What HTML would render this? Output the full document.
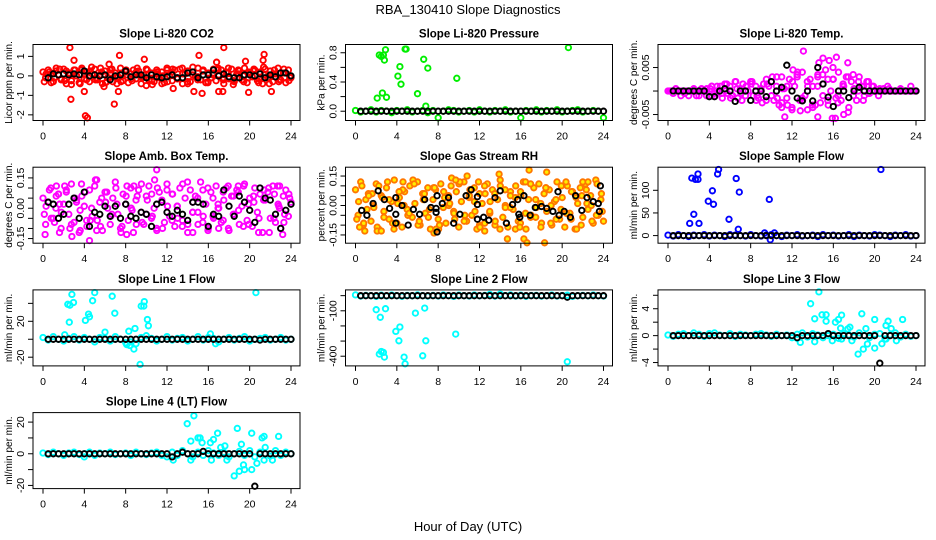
<!DOCTYPE html>
<html><head><meta charset="utf-8"><style>
html,body{margin:0;padding:0;background:#fff;}
svg{display:block;font-family:"Liberation Sans",sans-serif;}
</style></head><body>
<svg id="chart" width="936" height="540" viewBox="0 0 936 540" xmlns="http://www.w3.org/2000/svg">
<rect width="936" height="540" fill="#fff"/>
<text x="468" y="14" text-anchor="middle" font-size="13">RBA_130410  Slope Diagnostics</text>
<text x="468" y="531" text-anchor="middle" font-size="13">Hour of Day (UTC)</text>
<g id="plots"></g>
</svg>
<script>
// ---------- data ----------
const co2A=[0.2,-0.1,0.3,0.1,-0.3,0.25,0.05,-0.2,0.35,-0.4,0.15,-0.25,0.3,0.0,-0.35,0.4,-0.15,0.2,-0.3,0.1,0.35,-0.2,0.05,-0.4,0.25,-0.1,0.3,-0.3,0.15,-0.05,0.4,-0.25,0.2,-0.35,0.1,0.3,-0.15,0.25,-0.4,0.05,0.35,-0.2,0.15,-0.3,0.3,-0.1,0.2,-0.35,0.4,0.0,-0.25,0.3,-0.15,0.35,-0.4,0.1,0.25,-0.3,0.2,-0.05,0.4,-0.2,0.3,-0.35,0.15,-0.1,0.35,-0.25,0.05,0.3,-0.4,0.2,-0.15,0.35,-0.3,0.1,0.25,-0.2,0.4,-0.35,0.15,-0.05,0.3,-0.25,0.2,-0.4,0.35,-0.1,0.25,-0.3,0.1,0.4,-0.2,0.15,-0.35,0.3,-0.1];
const co2B=[-0.3,0.2,-0.1,0.35,-0.25,0.1,0.3,-0.4,0.05,0.25,-0.2,0.4,-0.35,0.15,0.0,-0.3,0.3,-0.15,0.2,-0.05,0.35,-0.25,0.1,-0.4,0.3,0.2,-0.1,0.4,-0.3,0.05,-0.2,0.25,-0.35,0.15,0.3,-0.1,0.4,-0.25,0.1,-0.3,0.2,0.35,-0.15,0.05,-0.4,0.3,-0.2,0.15,-0.05];
const co2C=[0.1,-0.35,0.4,-0.15,0.25,-0.45,0.0,0.3,-0.2,0.45,-0.1,0.2,-0.3,0.35,-0.4,0.15,0.05,-0.25,0.4,-0.1,0.3,-0.45,0.2,0.0,-0.3,0.35,-0.15,0.1,-0.4,0.45,-0.05,0.25,-0.3,0.05,0.4,-0.2,0.15,-0.45,0.3,0.0,-0.1,0.25,-0.35,0.45,-0.15,0.1,-0.3,0.35,-0.25];
const co2OutT=[2.6,4.1,4.3,2.7,6.9,7.4,9.8,15.1,17.5,21.4,4.0,7.3,14.6,15.4,10.0,17.0,17.4,19.9,22.1,16.8,3.0,21.3,6.4,19.6,12.6,5.9];
const co2OutV=[1.45,-2.05,-2.15,-1.2,-1.45,1.05,0.85,1.05,1.45,1.1,-0.8,-0.8,-0.8,-0.9,-0.5,-0.8,-0.8,-0.85,-0.8,0.7,0.8,0.8,0.6,0.75,-0.65,-0.55];
const co2Black=[-0.1,0.1,0.05,0.1,0.05,0.1,0.05,0.25,0.0,0.05,0.0,0.05,-0.2,0.0,0.05,0.25,-0.05,0.05,0.05,-0.1,0.05,-0.05,-0.1,-0.05,0.05,-0.1,-0.1,0.15,0.2,-0.1,0.05,0.05,0.3,0.0,0.1,-0.05,-0.1,-0.1,0.05,0.05,0.0,0.1,-0.1,0.05,-0.05,0.15,0.15,0.0];

const pressBand=[0.01,-0.01,0.0,0.02,-0.01,0.01,0.0,-0.02,0.01,0.0,0.02,-0.01,0.0,0.01,-0.02,0.01,-0.09,0.0,0.02,0.01,-0.01,0.0,0.01,-0.01,0.02,0.0,-0.01,0.01,0.0,0.02,-0.01,0.0,-0.09,0.01,0.0,0.02,-0.01,0.01,0.0,0.02,-0.01,0.0,0.01,0.02,-0.01,0.0,0.01,0.0,-0.09];
const pressOutT=[2.1,2.3,2.5,2.6,2.7,2.8,2.9,3.0,4.1,4.3,4.4,4.8,4.9,6.0,6.6,7.0,9.8,20.6,6.8];
const pressOutV=[0.18,0.77,0.75,0.25,0.77,0.7,0.84,0.19,0.48,0.61,0.37,0.85,0.85,0.24,0.71,0.59,0.45,0.87,0.07];
const pressBlack=[0,0,0,0,0,0,0,0,0,0,0,0,0,0,0,0,0,0,0,0,0,0,0,0,0,0,0,0,0,0,0,0,0,0,0,0,0,0,0,0,0,0,0,0,0,0,0,0];

const tempA=[0,0,-0.5,0.5,0,-1,0,0,-1,0,0.5,0,-1,0,0,0.5,-1,1,-0.5,1,0,-1.5,1.5,-0.5,1,-1,2,-1.5,0.5,1.5,-1,0,2,-1,1,-1.5,0.5,1.5,-2,1,2,-2,1,-3,3,0.5,-1.5,2.5,-3.5,1,3,-2,4,-1,-4,2.5,1,-3,3.5,-2.5,1.5,4.5,-3,0,2.5,-1.5,4,-2,1,3,-3.5,2,0.5,-2,3,1,-1,2,-0.5,1,0,0,0.5,0,0,1,0,0,0,0,0.5,0,0,0,1,0,0];
const tempB=[0,0,0,-0.5,0,0,0,0,0.5,-1,1,0,-1.5,2,-0.5,1,1.5,-2,0,2.5,-1,3,-2.5,1,-4,3.5,-1.5,2,-3,1,3.5,-2,2.5,-1,1.5,3,-1,2,1,-0.5,0,0,0,0.5,0,0,0,0,0];
const tempC=[0,0,0,0,0,-1,0.5,-1,1,0,-0.5,1.5,-1,0.5,-2,1,2,-1,-2.5,1.5,3,-1.5,0.5,-3,2,4,-2,1,-3.5,3,-1,2.5,5,-2.5,1,-4.5,3.5,0,-2,2,1,-1,0.5,0,0,0,0,0,0];
const tempOutT=[13.1,11.3,14.5,16.2,15.9,15.6,17.4,12.8,17.0,15.0,16.3,14.6,11.0,12.1];
const tempOutV=[8.5,-5.5,-5.5,-5.8,-5.8,6.5,6.0,-4.2,-5.0,7.0,7.2,6.0,-3.5,4.5];
const tempBlack=[0,0,0,0,0,0,0,-1.2,-1.2,0,0.5,0,-2.2,0,0,-2.0,0,0,-1.2,2.0,0,0.8,5.5,0,-1.5,-2.1,0,-2.1,5.0,1.5,-1.3,-3.3,0,0,-1.4,0,0.8,0,0,0,0,0,0,0,0,0,0,0];

const ambA=[5,-8,3,10,-5,0,7,-10,2,8,-3,12,-7,4,-12,6,1,-9,9,-4,11,-6,3,-11,8,0,-8,5,13,-3,-10,7,2,-6,10,-12,4,9,-2,-8,6,11,-5,0,-10,8,3,-7,12,-4,7,-9,1,10,-6,5,-12,9,-2,6,-8,13,-4,2,-10,8,-5,11,0,-7,4,10,-11,6,-3,9,-8,1,12,-6,5,-9,10,-2,7,-12,4,8,-5,11,-7,2,-10,6,9,-4,3];
const ambB=[-3,9,-7,2,11,-10,5,-1,8,-6,14,-9,3,-4,10,-12,6,0,-8,12,-3,7,-11,4,9,-6,1,-9,13,-2,5,-7,10,-4,2,8,-10,6,-1,11,-8,3,-5,9,-12,7,0,-3,5];
const ambC=[1,-5,6,-2,9,-8,3,12,-6,0,-11,5,8,-3,2,-9,11,-1,6,-7,4,-4,10,-10,1,7,-5,12,-8,3,-2,9,-11,5,0,-6,11,-3,8,-9,2,6,-12,4,10,-5,1,-7,7];
const ambOutT=[11.0,10.8,0.2,1.6,2.8,4.5,5.4,8.1,12.6,23.2,1.3,5.2,8.8,22.7,22.9,3.6,14.5,17.0,18.9,1.5];
const ambOutV=[19,14,-13,-12,-14,-16,-19,-13,-19,-13,11,14,11,11,11,-11,-12,-10,11,7];
const ambBlack=[3,2,-5,-3,2,5,-5,8,-9,-2,-3,1,-4,1,-5,2,-4,-5,-2,-3,-9,2,3,-2,-4,-1,-3,-6,3,3,2,-9,-3,-4,9,1,-4,6,3,-1,-7,10,5,4,-3,-10,-1,2];

const rhA=[8,-5,12,-10,3,6,-8,0,11,-12,5,-3,9,-7,2,13,-9,4,-11,7,-2,10,-6,1,12,-10,6,-4,9,-12,3,8,-7,11,-1,-9,5,10,-3,7,-11,2,12,-8,4,-5,9,-12,6,1,-9,11,-4,8,-10,3,13,-6,0,-11,7,-2,10,-8,5,12,-12,3,-5,9,-1,11,-9,6,-3,8,-10,2,12,-7,4,-11,10,-4,7,-12,1,9,-6,11,-2,5,-9,13,-5,3,-8];
const rhB=[-7,10,-2,6,-11,4,12,-9,1,8,-5,13,-10,3,-6,9,-12,7,0,-4,11,-8,5,2,-10,10,-3,6,-12,8,-1,4,-9,12,-6,3,-11,9,0,-7,10,-4,7,-12,5,1,-8,11,-3];
const rhC=[2,-9,5,-1,10,-6,3,-12,7,0,-4,11,-8,6,-2,9,-10,4,1,-7,12,-5,8,-3,-11,6,2,-8,10,-1,5,-12,7,-4,11,-6,1,9,-9,3,-2,12,-7,4,-10,8,0,-5,6];
const rhOutT=[7.6,7.8,14.7,16.3,16.6,18.3,4.6,9.3,10.8,13.9,16.8,18.5,0.4,0.9,2.1,2.5,12.5,22.0,22.5,15.9,11.9,9.7];
const rhOutV=[-14,-12,-17,-17,-19,-19,12,14,15,16,18,17,-11,-13,-13,-13,-13,12,12,-11,12,13];
const rhBlackT=[0.6,1.1,1.7,2.2,2.8,3.3,3.9,3.9,3.9,4.5,5.1,5.6,6.2,6.7,7.3,7.8,7.8,7.9,7.9,8.4,9.0,9.5,10.1,10.7,11.2,11.8,11.8,11.8,12.4,12.9,13.5,14.0,14.6,15.2,15.7,15.8,15.9,16.3,16.9,17.4,18.0,18.5,19.1,19.6,19.7,20.2,20.8,21.3,21.9,22.4,23.0,23.5,23.6,23.7];
const rhBlackV=[-2.5,-5,1,7.5,3,-1.5,4,-4.5,-9,0,-10,-2,-4.5,3,-1,-3.5,-1.5,5,-13.5,1,4,-9,-4.5,5,8,-7,4.5,0.5,-6,-7.5,4,7.5,-9,0.5,3,-4.5,-6,5,-5,-1,-0.5,-1.5,-3,7,-5,-3,-6,5,-2.5,4,2,1,-3,10];

const sampBand=[1,-1,2,0,-2,1,0,2,-1,1,0,-2,2,1,0,-1,2,0,-1,1,2,0,-2,1,0,2,-1,0,1,-2,2,0,1,-1,0,2,-2,1,0,-1,2,1,0,-2,1,0,2,-1,0];
const sampOutT=[2.1,2.3,2.5,2.65,2.9,2.9,3.0,3.9,4.3,4.4,4.8,4.9,5.9,6.6,6.8,6.9,9.8,20.6,9.9,9.35,10.3];
const sampOutV=[27,127,47,124,124,136,27,76,99,69,136,146,36,126,14,96,80,146,-9,6,6];
const sampBlack=[0,0,0,0,0,0,0,0,0,0,0,0,0,0,0,0,0,0,0,0,0,0,0,0,0,0,0,0,0,0,0,0,0,0,0,0,0,0,0,0,0,0,0,0,0,0,0,0];

const l1Band=[2,-1,3,0,-2,1,3,-1,2,0,-3,2,1,-2,3,0,-4,-3,-5,2,4,1,-2,0,3,-1,1,2,-2,0,3,-1,2,1,-3,0,2,-1,1,3,-2,0,1,2,-1,0,2,-1,0];
const l1OutT=[2.4,2.6,2.8,2.95,2.55,4.1,4.4,4.5,4.8,5.0,6.7,6.95,9.75,9.8,9.5,10.1,10.2,9.4,8.8,8.1,8.4,20.6,8.9,8.3,6.0,16.2,16.7,2.1];
const l1OutV=[39,38,50,41,19,21,28,25,43,52,48,29,37,42,37,22,15,-28,-11,-6,-7,52,12,9,8,6,-5,5];
const l1Black=[0,0,0,0,0,0,0,0,0,0,0,0,0,0,0,0,0,0,0,0,0,0,0,0,0,0,0,0,0,0,0,0,0,0,0,0,0,0,0,0,0,-1,0,0,0,0,0,0];

const l2Band=[5,-3,2,0,-5,3,-2,4,0,-4,2,-1,5,0,-3,2,-2,4,1,-5,3,0,-2,4,-1,2,8,-3,10,0,5,-2,3,-4,1,2,-3,0,4,-2,1,3,-5,0,2,-1,4,0,-2];
const l2OutT=[2.0,2.4,2.9,2.3,2.5,2.7,2.8,3.9,4.3,4.2,4.7,4.8,5.8,6.5,6.7,6.8,9.7,20.5];
const l2OutV=[-93,-143,-86,-386,-369,-375,-406,-236,-207,-298,-406,-450,-115,-397,-82,-298,-254,-437];
const l2Black=[0,0,0,0,0,0,0,0,0,0,0,0,0,0,0,0,0,0,0,0,0,0,0,0,0,0,0,0,0,0,0,0,0,0,0,0,0,0,0,0,-10,0,0,0,0,0,0,0];

const l3Band=[0.1,-0.1,0.2,0.3,0.0,0.4,0.2,-0.1,0.3,0.4,0.1,0.0,0.3,-0.1,0.2,0.1,0.0,0.2,0.3,0.1,-0.1,0.2,0.0,0.1,-0.3,0.2,0.4,-0.2,0.3,0.1,-0.3,0.0,0.2,-0.4,0.3,0.1,-0.2,0.4,0.0,-0.3,0.2,0.3,-0.5,0.1,0.4,-0.2,0.2,-0.1,0.0];
const l3OutT=[13.8,14.2,14.6,14.9,15.3,15.3,16.2,16.5,16.8,16.7,17.4,17.6,18.75,19.15,20.0,21.3,21.1,21.6,22.7,18.4,18.9,19.3,20.0,20.7,21.1,22.1,12.5,12.8,14.2,15.9,16.8,17.8];
const l3OutV=[4.75,2.5,6.5,3.1,3.1,2.15,2.0,2.4,3.05,1.1,1.0,1.25,3.25,1.05,2.4,2.15,1.5,1.05,2.4,-2.75,-2.0,-1.25,-1.85,-1.2,-0.5,-0.75,-0.4,-1.0,-0.9,-0.75,-0.5,-0.75];
const l3Black=[0,0,0,0,0,0,0,0,0,0,0,0,0,0,0,0,0,0,0,0,0,0,0,0,-0.3,0,0,0,0,0,0.3,0,0,0,0,0,0,0,0,0,-4.1,0,0,0,0,0,0,0];

const l4Band=[0.5,-0.5,1,0,-1,0.5,1,-0.5,0,1,-1,0.5,0,1,-0.5,0,0.5,-1,1,0,-0.5,0.5,1,-1,-2,1,-1,2,0,-2,1,-1,2,0.5,-1,1,-2,0,1.5,-1,2,-2,1,0,-1.5,2,-1,1,0];
const l4OutT=[13.95,14.6,14.3,15.0,15.2,15.4,16.2,16.5,16.9,17.6,17.2,18.8,19.2,20.2,21.2,21.4,21.5,22.8,18.5,19.0,19.5,19.4,20.2,20.7,21.4,22.2,17.8,16.3,14.3,4.0,12.6];
const l4OutV=[19,24,8,10,10,7,7,9,13,5,4,16,6,13,10,11,4,11,-14,-11,-10,-7,-10,-6,-4,-4,-4,-4,-4,-2,-4];
const l4Black=[0,0,0,0,0,0,0,0,0,0,0,0,0,0,0,0,0,0,0,0,0,0,0,0,-2,0,1,0,0,0,1.5,0,0,0,0,0,0,0,0,0,-20.5,0,0,0,0,0,0,0];

const xTicks=[0,4,8,12,16,20,24];

// ---------- panels ----------
const panels=[
 {id:'co2',title:'Slope Li-820 CO2',ylab:'Licor ppm per min.',col:0,row:0,ymin:-2.29,ymax:1.61,sc:1,ticks:[-2,-1,0,1],labels:['-2','-1','0','1'],color:'#ff0000',A:co2A,B:co2B,C:co2C,oT:co2OutT,oV:co2OutV,blk:co2Black},
 {id:'pressure',title:'Slope Li-820 Pressure',ylab:'kPa per min.',col:1,row:0,ymin:-0.127,ymax:0.913,sc:1,ticks:[0,0.2,0.4,0.6,0.8],labels:['0.0','','0.4','','0.8'],color:'#00ee00',A:pressBand,B:null,oT:pressOutT,oV:pressOutV,blk:pressBlack},
 {id:'temp',title:'Slope Li-820 Temp.',ylab:'degrees C per min.',col:2,row:0,ymin:-0.00627,ymax:0.0099,sc:0.001,ticks:[-0.005,0,0.005],labels:['-0.005','','0.005'],color:'#ff00ff',A:tempA,B:tempB,C:tempC,oT:tempOutT,oV:tempOutV,blk:tempBlack},
 {id:'amb-box-temp',title:'Slope Amb. Box Temp.',ylab:'degrees C per min.',col:0,row:1,ymin:-0.173,ymax:0.203,sc:0.01,ticks:[-0.15,-0.1,-0.05,0,0.05,0.1,0.15],labels:['-0.15','','','0.00','','','0.15'],color:'#ff00ff',A:ambA,B:ambB,C:ambC,oT:ambOutT,oV:ambOutV,blk:ambBlack},
 {id:'gas-stream-rh',title:'Slope Gas Stream RH',ylab:'percent per min.',col:1,row:1,ymin:-0.192,ymax:0.195,sc:0.01,ticks:[-0.15,-0.1,-0.05,0,0.05,0.1,0.15],labels:['-0.15','','','0.00','','','0.15'],color:'#ff7700',fill:'#ffee00',A:rhA,B:rhB,C:rhC,oT:rhOutT,oV:rhOutV,blk:rhBlackV,blkT:rhBlackT},
 {id:'sample-flow',title:'Slope Sample Flow',ylab:'ml/min per min.',col:2,row:1,ymin:-16.8,ymax:151,sc:1,ticks:[0,50,100],labels:['0','50','100'],color:'#0000ff',A:sampBand,B:null,oT:sampOutT,oV:sampOutV,blk:sampBlack},
 {id:'line1-flow',title:'Slope Line 1 Flow',ylab:'ml/min per min.',col:0,row:2,ymin:-29.7,ymax:55,sc:1,ticks:[-20,0,20,40],labels:['-20','','20',''],color:'#00ffff',A:l1Band,B:null,oT:l1OutT,oV:l1OutV,blk:l1Black},
 {id:'line2-flow',title:'Slope Line 2 Flow',ylab:'ml/min per min.',col:1,row:2,ymin:-464,ymax:38,sc:1,ticks:[-400,-300,-200,-100,0],labels:['-400','','','-100',''],color:'#00ffff',A:l2Band,B:null,oT:l2OutT,oV:l2OutV,blk:l2Black},
 {id:'line3-flow',title:'Slope Line 3 Flow',ylab:'ml/min per min.',col:2,row:2,ymin:-4.5,ymax:6.8,sc:1,ticks:[-4,-2,0,2,4,6],labels:['-4','','0','','4',''],color:'#00ffff',A:l3Band,B:null,oT:l3OutT,oV:l3OutV,blk:l3Black},
 {id:'line4-lt-flow',title:'Slope Line 4 (LT) Flow',ylab:'ml/min per min.',col:0,row:3,ymin:-22,ymax:26,sc:1,ticks:[-20,-10,0,10,20],labels:['-20','','0','','20'],color:'#00ffff',A:l4Band,B:null,oT:l4OutT,oV:l4OutV,blk:l4Black}
];

const NS='http://www.w3.org/2000/svg';
const root=document.getElementById('plots');
function mk(tag,attrs,parent){const e=document.createElementNS(NS,tag);for(const k in attrs)e.setAttribute(k,attrs[k]);parent.appendChild(e);return e;}

panels.forEach(p=>{
  const ox=p.col*312.5, L=ox+33, R=ox+300, T=44.5+p.row*122.7, B=T+76;
  const x0=ox+43, x1=ox+291;
  const X=h=>x0+(x1-x0)*h/24;
  const Y=v=>B-(v-p.ymin)/(p.ymax-p.ymin)*(B-T);
  const g=mk('g',{},root);
  
  
  const t=mk('text',{x:(L+R)/2,y:T-7,'text-anchor':'middle','font-size':'11.5','font-weight':'bold'},g);
  t.textContent=p.title;
  
  
  const yl=mk('text',{transform:`translate(${ox+12},${(T+B)/2}) rotate(-90)`,'text-anchor':'middle','font-size':'10'},g);
  yl.textContent=p.ylab;
  
  
  const pts=mk('g',{},g);
  
  
  const dot=(h,v,c,f,cls)=>{const yy=Y(v);if(yy<T-2||yy>B+2)return;const c1=mk('circle',{cx:X(h).toFixed(1),cy:yy.toFixed(1),r:2.7,fill:f||'none',stroke:c,'stroke-width':1.9},pts);};
  p.A.forEach((v,i)=>dot(i*24/(p.A.length-1),v*p.sc,p.color,p.fill,'point'));
  if(p.B)p.B.forEach((v,i)=>dot(0.125+i*23.75/(p.B.length-1),v*p.sc,p.color,p.fill,'point'));
  if(p.C)p.C.forEach((v,i)=>dot(0.3+i*23.5/(p.C.length-1),v*p.sc,p.color,p.fill,'point'));
  p.oV.forEach((v,i)=>dot(p.oT[i],v*p.sc,p.color,p.fill,'outlier-point'));
  p.blk.forEach((v,i)=>{const h=p.blkT?p.blkT[i]:0.5+i*23.5/(p.blk.length-1);dot(h,v*p.sc,'#000',null,'hourly-point');});
  const bx=mk('rect',{x:L,y:T,width:R-L,height:B-T,fill:'none',stroke:'#000','stroke-width':1},g);
  
  
  xTicks.forEach(h=>{
    mk('line',{x1:X(h),x2:X(h),y1:B,y2:B+5,stroke:'#000'},g);
    const tl=mk('text',{x:X(h),y:B+19,'text-anchor':'middle','font-size':'10.5'},g);
    tl.textContent=h;
    
    
  });
  p.ticks.forEach((v,i)=>{
    const yy=Y(v);
    mk('line',{x1:L,x2:L-5,y1:yy,y2:yy,stroke:'#000'},g);
    if(p.labels[i]){
      const tl=mk('text',{transform:`translate(${ox+24},${yy}) rotate(-90)`,'text-anchor':'middle','font-size':'10.5'},g);
      tl.textContent=p.labels[i];
      
      
    }
  });
});
</script>
</body></html>
